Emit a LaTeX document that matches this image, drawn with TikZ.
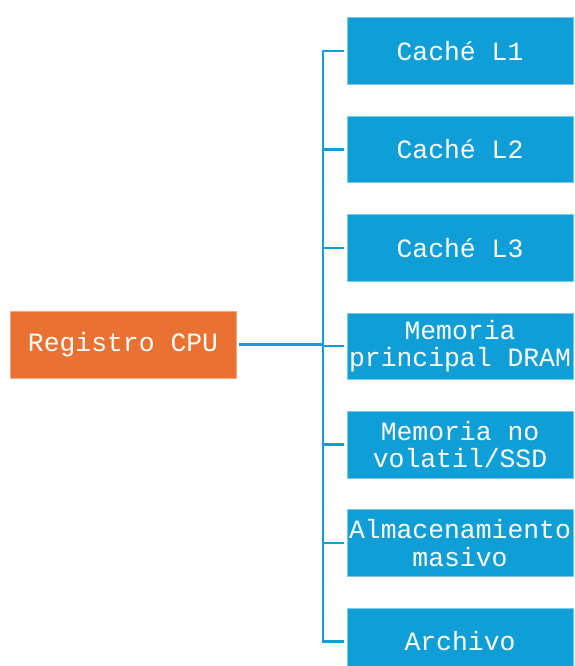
\documentclass[tikz,border=0pt]{standalone}
\usepackage{fontspec}
\setmonofont{Liberation Mono}
\definecolor{boxblue}{HTML}{0F9ED5}
\definecolor{boxorange}{HTML}{E97132}
\tikzset{
  level/.style={fill=boxblue, draw=boxblue!55!white, line width=0.6pt,
    minimum width=226pt, minimum height=66.6pt, inner sep=0pt,
    text=white, align=center,
    font=\ttfamily\fontsize{26.4}{27.5}\selectfont},
  root/.style={level, fill=boxorange, draw=boxorange!60!white, minimum height=67pt},
  conn/.style={draw=boxblue, line width=2.4pt}
}
\begin{document}
\begin{tikzpicture}[x=1pt, y=-1pt]
\useasboundingbox (0,0) rectangle (574,666);
\clip (0,0) rectangle (574,666);
\fill[white] (0,0) rectangle (574,666);

% memory hierarchy levels
\node[root]  (cpu) at (123,344.5) {Registro CPU};
\node[level] (b1) at (460,51.0)  {Caché L1};
\node[level] (b2) at (460,149.4) {Caché L2};
\node[level] (b3) at (460,247.8) {Caché L3};
\node[level] (b4) at (460,346.2) {Memoria\\principal DRAM};
\node[level] (b5) at (460,444.6) {Memoria no\\volatil/SSD};
\node[level] (b6) at (460,543.0) {Almacenamiento\\masivo};
\node[level] (b7) at (460,641.4) {Archivo};

% bracket bus
\draw[conn] ([xshift=-3pt]b1.west) -- ([xshift=-24pt]b1.west)
            -- ([xshift=-24pt]b7.west) -- ([xshift=-3pt]b7.west);
\foreach \i in {2,...,6}
  \draw[conn] ([xshift=-24pt]b\i.west) -- ([xshift=-3pt]b\i.west);
\draw[conn] ([xshift=3pt]cpu.east) -- ([xshift=-24pt]b4.west |- cpu.east);
\end{tikzpicture}
\end{document}
